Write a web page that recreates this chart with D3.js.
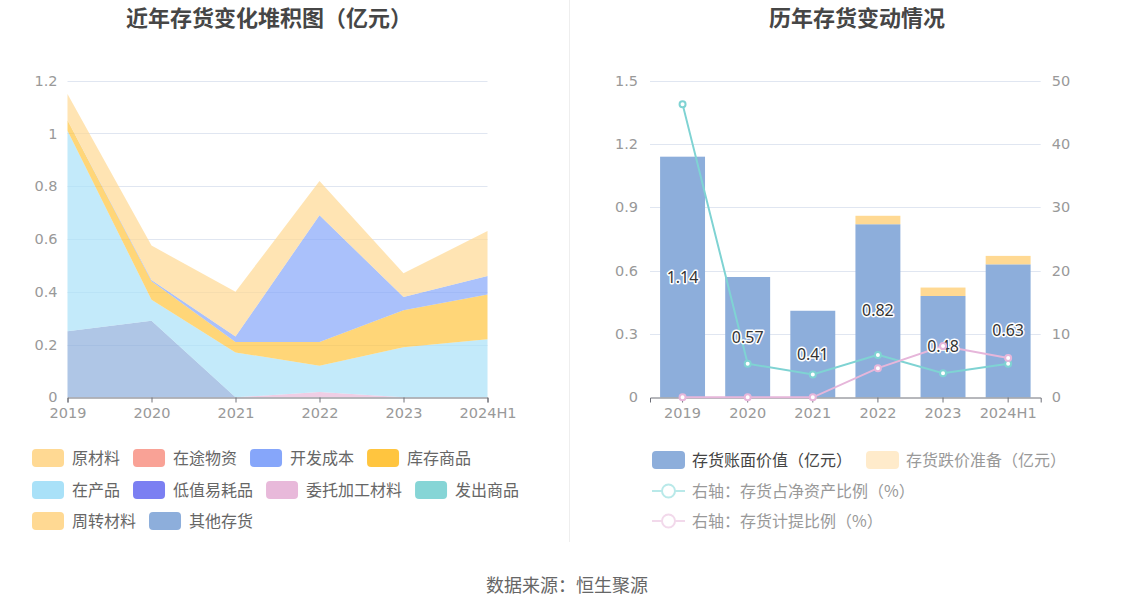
<!DOCTYPE html>
<html>
<head>
<meta charset="utf-8">
<script src="https://cdn.jsdelivr.net/npm/d3@7"></script>
<style>
  html, body { margin: 0; padding: 0; background: #fff; }
  svg { display: block; font-family: "Noto Sans CJK SC", "Noto Sans", sans-serif; }
</style>
</head>
<body>
<svg id="chart" width="1134" height="612"></svg>
<script>
// ---------- DATA ----------
const years = ['2019', '2020', '2021', '2022', '2023', '2024H1'];

// left stacked chart (亿元)
const rawMaterial   = [0.10, 0.13, 0.17, 0.13, 0.09, 0.17]; // 原材料
const inTransit     = [0, 0, 0, 0, 0, 0];                   // 在途物资
const devCost       = [0, 0.005, 0.02, 0.48, 0.05, 0.07];   // 开发成本
const stockGoods    = [0.04, 0.07, 0.04, 0.09, 0.14, 0.17]; // 库存商品
const wip           = [0.76, 0.08, 0.17, 0.10, 0.19, 0.22]; // 在产品
const lowValue      = [0, 0, 0, 0, 0, 0];                   // 低值易耗品
const consigned     = [0, 0, 0, 0.02, 0, 0];                // 委托加工材料
const shipped       = [0, 0, 0, 0, 0, 0];                   // 发出商品
const revolving     = [0, 0, 0, 0, 0, 0];                   // 周转材料
const otherStock    = [0.25, 0.29, 0, 0, 0, 0];             // 其他存货

const leftTicks = [0, 0.2, 0.4, 0.6, 0.8, 1, 1.2];

// right chart
const bookValue      = [1.14, 0.57, 0.41, 0.82, 0.48, 0.63]; // 存货账面价值（亿元）
const provision      = [0, 0, 0, 0.04, 0.04, 0.04];          // 存货跌价准备（亿元）
const ratioNetAssets = [46.3, 5.3, 3.6, 6.7, 3.8, 5.3];      // 存货占净资产比例（%）
const provisionRatio = [0, 0, 0, 4.6, 8.1, 6.2];             // 存货计提比例（%）

const rightTicksL = [0, 0.3, 0.6, 0.9, 1.2, 1.5];
const rightTicksR = [0, 10, 20, 30, 40, 50];

// ---------- SERIES META ----------
const leftSeries = [
  { name: '原材料', values: rawMaterial, color: '#FFD993' },
  { name: '在途物资', values: inTransit, color: '#F9A296' },
  { name: '开发成本', values: devCost, color: '#86A6FA' },
  { name: '库存商品', values: stockGoods, color: '#FFC53F' },
  { name: '在产品', values: wip, color: '#A9E1F8' },
  { name: '低值易耗品', values: lowValue, color: '#7B7FF2' },
  { name: '委托加工材料', values: consigned, color: '#E8B9DA' },
  { name: '发出商品', values: shipped, color: '#86D5D6' },
  { name: '周转材料', values: revolving, color: '#FFD993' },
  { name: '其他存货', values: otherStock, color: '#8DAEDB' }
];
// stacking order, bottom to top
const stackOrder = ['其他存货', '委托加工材料', '在产品', '库存商品', '开发成本',
                    '在途物资', '低值易耗品', '发出商品', '周转材料', '原材料'];

const svg = d3.select('#chart');
const axisColor = '#6E7079';
const gridColor = '#E0E6F1';
const labelColor = '#999';
const tickFont = '"DejaVu Sans", sans-serif';
const tickSize = 14.5;

// ---------- TITLES & DECOR ----------
svg.append('text').attr('x', 269).attr('y', 26).attr('text-anchor', 'middle')
  .attr('font-size', 22).attr('font-weight', 'bold').attr('fill', '#464646')
  .text('近年存货变化堆积图（亿元）');
svg.append('text').attr('x', 857).attr('y', 26).attr('text-anchor', 'middle')
  .attr('font-size', 22).attr('font-weight', 'bold').attr('fill', '#464646')
  .text('历年存货变动情况');
svg.append('line').attr('x1', 569.5).attr('x2', 569.5).attr('y1', 0).attr('y2', 542)
  .attr('stroke', '#EEEEEE').attr('stroke-width', 1);
svg.append('text').attr('x', 567).attr('y', 592).attr('text-anchor', 'middle')
  .attr('font-size', 18).attr('fill', '#666').text('数据来源：恒生聚源');

// ---------- LEFT CHART ----------
const xL = d3.scalePoint().domain(years).range([67.5, 487.5]);
const yL = d3.scaleLinear().domain([0, 1.2]).range([397.3, 80.7]);

const gL = svg.append('g');
gL.selectAll('line.grid').data(leftTicks.filter(t => t > 0)).join('line')
  .attr('x1', 67.5).attr('x2', 487.5)
  .attr('y1', d => Math.round(yL(d)) + 0.5).attr('y2', d => Math.round(yL(d)) + 0.5)
  .attr('stroke', gridColor);

const tableRows = years.map((y, i) => {
  const row = { year: y };
  leftSeries.forEach(s => row[s.name] = s.values[i]);
  return row;
});
const stackGen = d3.stack().keys(stackOrder);
const stacked = stackGen(tableRows);
const colorOf = Object.fromEntries(leftSeries.map(s => [s.name, s.color]));
const areaGen = d3.area()
  .x(d => xL(d.data.year))
  .y0(d => yL(d[0]))
  .y1(d => yL(d[1]));
gL.selectAll('path.area').data(stacked).join('path')
  .attr('d', areaGen)
  .attr('fill', d => colorOf[d.key])
  .attr('fill-opacity', 0.7);

const axL = gL.append('g').attr('transform', `translate(0,${Math.round(yL(0)) + 0.5})`)
  .call(d3.axisBottom(xL).tickSize(5).tickPadding(5));
axL.select('.domain').attr('stroke', axisColor);
axL.selectAll('.tick line').attr('stroke', axisColor);
axL.selectAll('.tick text').attr('fill', labelColor).attr('font-size', tickSize)
  .attr('font-family', tickFont);

const ayL = gL.append('g').attr('transform', 'translate(67.5,0)')
  .call(d3.axisLeft(yL).tickValues(leftTicks).tickSize(0).tickPadding(10)
    .tickFormat(d => String(+d.toFixed(1))));
ayL.select('.domain').remove();
ayL.selectAll('.tick text').attr('fill', labelColor).attr('font-size', tickSize)
  .attr('font-family', tickFont);

// left legend
const legendRows = [
  ['原材料', '在途物资', '开发成本', '库存商品'],
  ['在产品', '低值易耗品', '委托加工材料', '发出商品'],
  ['周转材料', '其他存货']
];
const legendRowY = [458, 490, 521];
legendRows.forEach((row, ri) => {
  let x = 32;
  row.forEach(name => {
    const g = svg.append('g').attr('transform', `translate(${x},${legendRowY[ri]})`);
    g.append('rect').attr('x', 0).attr('y', -9).attr('width', 32).attr('height', 18)
      .attr('rx', 4).attr('fill', colorOf[name]);
    const t = g.append('text').attr('x', 40).attr('y', 0).attr('dy', '0.35em')
      .attr('font-size', 16).attr('fill', '#666').text(name);
    x += 40 + t.node().getComputedTextLength() + 13;
  });
});

// ---------- RIGHT CHART ----------
const xR = d3.scaleBand().domain(years).range([650, 1040.7]).padding(0);
const yR = d3.scaleLinear().domain([0, 1.5]).range([397.3, 80.7]);
const yR2 = d3.scaleLinear().domain([0, 50]).range([397.3, 80.7]);
const gR = svg.append('g');

gR.selectAll('line.grid').data(rightTicksL.filter(t => t > 0)).join('line')
  .attr('x1', 650).attr('x2', 1040.7)
  .attr('y1', d => Math.round(yR(d)) + 0.5).attr('y2', d => Math.round(yR(d)) + 0.5)
  .attr('stroke', gridColor);

const barW = xR.bandwidth() * 0.69;
const bx = d => xR(d) + (xR.bandwidth() - barW) / 2;
const barColor = '#8DAEDB';
const provColor = '#FFD993';

gR.selectAll('rect.book').data(years).join('rect')
  .attr('x', d => bx(d)).attr('width', barW)
  .attr('y', (d, i) => yR(bookValue[i]))
  .attr('height', (d, i) => yR(0) - yR(bookValue[i]))
  .attr('fill', barColor);
gR.selectAll('rect.prov').data(years).join('rect')
  .attr('x', d => bx(d)).attr('width', barW)
  .attr('y', (d, i) => yR(bookValue[i] + provision[i]))
  .attr('height', (d, i) => yR(bookValue[i]) - yR(bookValue[i] + provision[i]))
  .attr('fill', provColor);

const axR = gR.append('g').attr('transform', `translate(0,${Math.round(yR(0)) + 0.5})`)
  .call(d3.axisBottom(xR).tickSize(5).tickPadding(5));
axR.select('.domain').attr('stroke', axisColor);
axR.selectAll('.tick line').attr('stroke', axisColor);
axR.selectAll('.tick text').attr('fill', labelColor).attr('font-size', tickSize)
  .attr('font-family', tickFont);

const ayR = gR.append('g').attr('transform', 'translate(650,0)')
  .call(d3.axisLeft(yR).tickValues(rightTicksL).tickSize(0).tickPadding(12)
    .tickFormat(d => String(+d.toFixed(1))));
ayR.select('.domain').remove();
ayR.selectAll('.tick text').attr('fill', labelColor).attr('font-size', tickSize)
  .attr('font-family', tickFont);

const ayR2 = gR.append('g').attr('transform', 'translate(1040.7,0)')
  .call(d3.axisRight(yR2).tickValues(rightTicksR).tickSize(0).tickPadding(11));
ayR2.select('.domain').remove();
ayR2.selectAll('.tick text').attr('fill', labelColor).attr('font-size', tickSize)
  .attr('font-family', tickFont);

// lines
const cx = d => xR(d) + xR.bandwidth() / 2;
const lineSpecs = [
  { values: ratioNetAssets, color: '#7FD3D3' },
  { values: provisionRatio, color: '#E6B6DA' }
];
lineSpecs.forEach(spec => {
  const lineGen = d3.line().x((d, i) => cx(years[i])).y(d => yR2(d));
  gR.append('path').attr('d', lineGen(spec.values)).attr('fill', 'none')
    .attr('stroke', spec.color).attr('stroke-width', 2);
});
// bar labels
gR.selectAll('text.blabel').data(years).join('text')
  .attr('x', d => cx(d))
  .attr('y', (d, i) => (yR(0) + yR(bookValue[i])) / 2)
  .attr('dy', '0.35em').attr('text-anchor', 'middle')
  .attr('font-size', 16).attr('font-family', '"Noto Sans", sans-serif')
  .attr('fill', '#333').attr('stroke', '#fff').attr('stroke-width', 3)
  .attr('paint-order', 'stroke').attr('stroke-linejoin', 'round')
  .text((d, i) => bookValue[i].toFixed(2));
lineSpecs.forEach(spec => {
  gR.append('g').selectAll('circle').data(spec.values).join('circle')
    .attr('cx', (d, i) => cx(years[i])).attr('cy', d => yR2(d)).attr('r', 3)
    .attr('fill', '#fff').attr('stroke', spec.color).attr('stroke-width', 2);
});

// right legend
const rl = svg.append('g');
const r1y = 460;
let rx = 652;
[['存货账面价值（亿元）', barColor, '#444'], ['存货跌价准备（亿元）', '#FFEBCB', '#999']].forEach(([name, col, tc]) => {
  const g = rl.append('g').attr('transform', `translate(${rx},${r1y})`);
  g.append('rect').attr('x', 0).attr('y', -9).attr('width', 33).attr('height', 18)
    .attr('rx', 4).attr('fill', col);
  const t = g.append('text').attr('x', 40).attr('dy', '0.35em').attr('font-size', 16)
    .attr('fill', tc).text(name);
  rx += 40 + t.node().getComputedTextLength() + 14;
});
[['右轴：存货占净资产比例（%）', '#B9E9E9', 491], ['右轴：存货计提比例（%）', '#F2D9EB', 521]].forEach(([name, col, y]) => {
  const g = rl.append('g').attr('transform', `translate(652,${y})`);
  g.append('line').attr('x1', 0).attr('x2', 33).attr('y1', 0).attr('y2', 0)
    .attr('stroke', col).attr('stroke-width', 2);
  g.append('circle').attr('cx', 16.5).attr('cy', 0).attr('r', 6.5)
    .attr('fill', '#fff').attr('stroke', col).attr('stroke-width', 2);
  g.append('text').attr('x', 40).attr('dy', '0.35em').attr('font-size', 16)
    .attr('fill', '#999').text(name);
});
</script>
</body>
</html>
